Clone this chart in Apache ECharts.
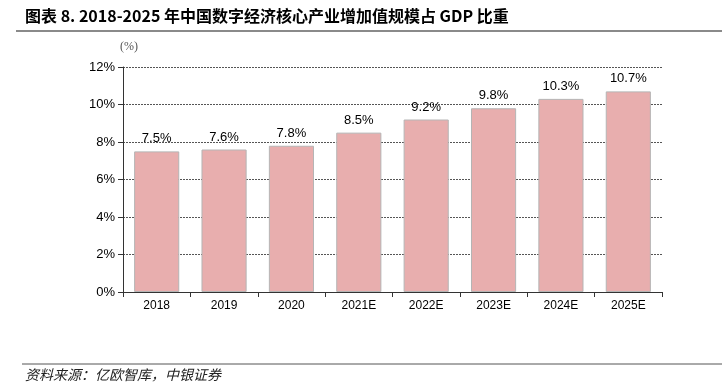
<!DOCTYPE html>
<html><head><meta charset="utf-8">
<script src="https://cdn.jsdelivr.net/npm/echarts@6/dist/echarts.min.js"></script>
<style>html,body{margin:0;padding:0;background:#fff}#c{width:722px;height:392px}</style>
</head><body><div id="c"></div>
<script>
const categories = ['2018','2019','2020','2021E','2022E','2023E','2024E','2025E'];
const values = [7.5, 7.6, 7.8, 8.5, 9.2, 9.8, 10.3, 10.7];
const titleText = '图表 8. 2018-2025 年中国数字经济核心产业增加值规模占 GDP 比重';
const unitText = '(%)';
const sourceText = '资料来源：亿欧智库，中银证券';

const chart = echarts.init(document.getElementById('c'));
chart.setOption({
  animation: false,
  graphic: [
    {type:'text', left: 25, top: 8, style:{text: titleText, font:'bold 16px "Noto Sans CJK SC", sans-serif', fill:'#000'}},
    {type:'line', shape:{x1:16,y1:31,x2:722,y2:31}, style:{stroke:'#8a8a8a', lineWidth:2}},
    {type:'text', left: 120, top: 41, style:{text: unitText, font:'12px "Liberation Serif", serif', fill:'#555'}},
    {type:'line', shape:{x1:22,y1:364,x2:722,y2:364}, style:{stroke:'#555', lineWidth:1}},
    {type:'text', left: 25, top: 368, style:{text: sourceText, font:'italic 14px "Noto Sans CJK SC", sans-serif', fill:'#222'}}
  ],
  grid: {left: 123, right: 60, top: 67, bottom: 100, containLabel: false},
  xAxis: {
    type: 'category', data: categories,
    axisLine: {lineStyle: {color: '#333', width: 1}},
    axisTick: {show: true, length: 5, lineStyle: {color: '#333'}},
    axisLabel: {color: '#000', fontSize: 12, fontFamily: 'Liberation Sans, Arial', margin: 8}
  },
  yAxis: {
    type: 'value', min: 0, max: 12, interval: 2,
    axisLine: {show: true, lineStyle: {color: '#333'}},
    axisTick: {show: true, length: 5, lineStyle: {color: '#333'}},
    axisLabel: {color: '#000', fontSize: 13, fontFamily: 'Liberation Sans, Arial', formatter: '{value}%', margin: 8},
    splitLine: {lineStyle: {color: '#555', type: [2,1], width: 1}}
  },
  series: [{
    type: 'bar', data: values, barWidth: '67%',
    itemStyle: {color: '#E8AEAE', borderColor: '#b5b5b5', borderWidth: 1},
    label: {show: true, position: 'top', formatter: p => p.value.toFixed(1) + '%', color: '#000', fontSize: 13, fontFamily: 'Liberation Sans, Arial', distance: 6}
  }]
});
</script></body></html>
